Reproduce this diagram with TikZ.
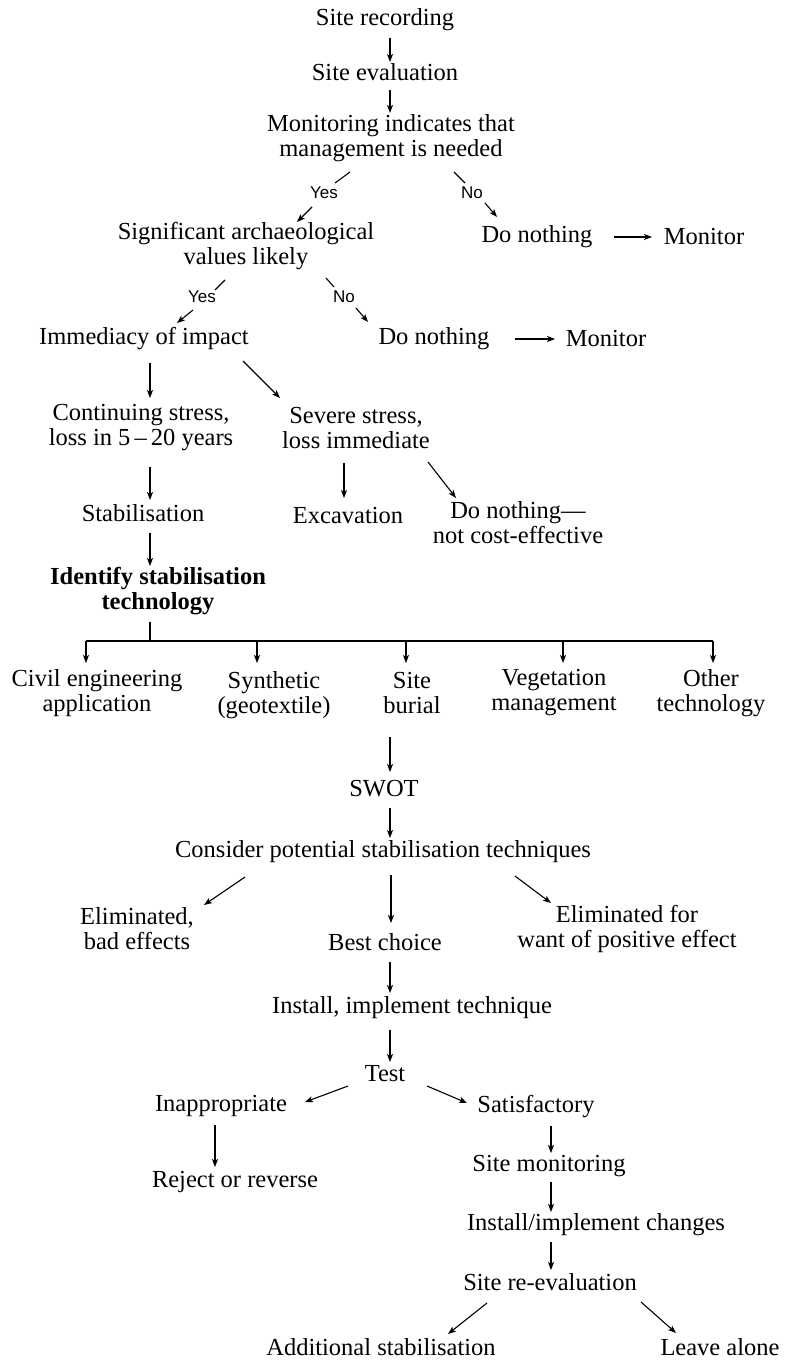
\documentclass[tikz,border=0pt]{standalone}
\usepackage{fontspec}
\setmainfont{Liberation Serif}
\newfontfamily\lblfont{Liberation Sans}
\usetikzlibrary{arrows.meta}
\begin{document}
\begin{tikzpicture}[x=1pt,y=-1pt,
  box/.style={inner sep=0pt,align=center,font=\fontsize{24.5}{25}\selectfont},
  bbox/.style={box,font=\fontsize{24.5}{25}\selectfont\bfseries},
  lbl/.style={inner sep=0pt,font=\lblfont\fontsize{17}{18}\selectfont},
  ln/.style={line width=1.1pt},
  arr/.style={ln,-{Stealth[length=8pt,width=6pt,inset=2pt]}}]
\useasboundingbox (0,0) rectangle (785,1362);
% nodes
\node[box] (rec) at (385,20) {Site recording};
\node[box] (eval) at (385,72) {Site evaluation};
\node[box] (mon) at (391,138) {Monitoring indicates that\\management is needed};
\node[lbl] (yes1) at (324,193) {Yes};
\node[lbl] (no1) at (472,193) {No};
\node[box] (sig) at (246,246) {Significant archaeological\\values likely};
\node[box] (dn1) at (537,237) {Do nothing};
\node[box] (mo1) at (704,237) {Monitor};
\node[lbl] (yes2) at (202,297) {Yes};
\node[lbl] (no2) at (344,297) {No};
\node[box] (imm) at (144,339) {Immediacy of impact};
\node[box] (dn2) at (434,339) {Do nothing};
\node[box] (mo2) at (606,339) {Monitor};
\node[box] (cont) at (141,428) {Continuing stress,\\loss in 5\thinspace–\thinspace20 years};
\node[box] (sev) at (356,428) {Severe stress,\\loss immediate};
\node[box] (stab) at (143,513) {Stabilisation};
\node[box] (exc) at (348,516) {Excavation};
\node[box] (dnc) at (518,523) {Do nothing—\\not cost-effective};
\node[bbox] (ident) at (158,591) {Identify stabilisation\\technology};
\node[box] (civ) at (97,693) {Civil engineering\\application};
\node[box] (syn) at (274,695) {Synthetic\\(geotextile)};
\node[box] (bur) at (412,693) {Site\\burial};
\node[box] (veg) at (554,693) {Vegetation\\management};
\node[box] (oth) at (711,693) {Other\\technology};
\node[box] (swot) at (384,789) {SWOT};
\node[box] (cons) at (383,852) {Consider potential stabilisation techniques};
\node[box] (elb) at (137,929) {Eliminated,\\bad effects};
\node[box] (best) at (385,942) {Best choice};
\node[box] (elw) at (627,929) {Eliminated for\\want of positive effect};
\node[box] (inst) at (412,1008) {Install, implement technique};
\node[box] (test) at (385,1074) {Test};
\node[box] (inap) at (221,1106) {Inappropriate};
\node[box] (sat) at (536,1107) {Satisfactory};
\node[box] (rej) at (235,1182) {Reject or reverse};
\node[box] (smon) at (549,1166) {Site monitoring};
\node[box] (ichg) at (596,1225) {Install/implement changes};
\node[box] (reev) at (550,1282) {Site re-evaluation};
\node[box] (add) at (381,1347) {Additional stabilisation};
\node[box] (leave) at (720,1347) {Leave alone};
% connectors
\draw[arr] ([shift={(5,18)}]rec.center) -- ([shift={(5,-10)}]eval.center);
\draw[arr] ([shift={(5,18)}]eval.center) -- ([shift={(-1,-25)}]mon.center);
\draw[ln] ([shift={(-41,34)}]mon.center) -- ([shift={(11,-10)}]yes1.center);
\draw[arr] ([shift={(-12,14)}]yes1.center) -- ([shift={(51,-24)}]sig.center);
\draw[ln] ([shift={(63,34)}]mon.center) -- ([shift={(-7,-10)}]no1.center);
\draw[arr] ([shift={(13,10)}]no1.center) -- ([shift={(-40,-20)}]dn1.center);
\draw[arr] ([shift={(77,0)}]dn1.center) -- ([shift={(-52,0)}]mo1.center);
\draw[ln] ([shift={(-21,34)}]sig.center) -- ([shift={(13,-7)}]yes2.center);
\draw[arr] ([shift={(-9,13)}]yes2.center) -- ([shift={(33,-16)}]imm.center);
\draw[ln] ([shift={(80,32)}]sig.center) -- ([shift={(-10,-10)}]no2.center);
\draw[arr] ([shift={(12,11)}]no2.center) -- ([shift={(-66,-17)}]dn2.center);
\draw[arr] ([shift={(81,0)}]dn2.center) -- ([shift={(-51,0)}]mo2.center);
\draw[arr] ([shift={(6,24)}]imm.center) -- ([shift={(9,-30)}]cont.center);
\draw[arr] ([shift={(99,22)}]imm.center) -- ([shift={(-76,-30)}]sev.center);
\draw[arr] ([shift={(9,39)}]cont.center) -- ([shift={(7,-13)}]stab.center);
\draw[arr] ([shift={(-12,35)}]sev.center) -- ([shift={(-4,-18)}]exc.center);
\draw[arr] ([shift={(72,34)}]sev.center) -- ([shift={(-62,-25)}]dnc.center);
\draw[arr] ([shift={(7,20)}]stab.center) -- ([shift={(-8,-25)}]ident.center);
\coordinate (bus) at ([shift={(-8,50)}]ident.center);
\draw[ln] ([shift={(-8,31)}]ident.center) -- (bus);
\draw[ln] ([shift={(-11,-52)}]civ.center) -- ([shift={(2,-52)}]oth.center);
\draw[arr] ([shift={(-11,-52)}]civ.center) -- ([shift={(-11,-30)}]civ.center);
\draw[arr] ([shift={(-17,-54)}]syn.center) -- ([shift={(-17,-32)}]syn.center);
\draw[arr] ([shift={(-6,-52)}]bur.center) -- ([shift={(-6,-30)}]bur.center);
\draw[arr] ([shift={(9,-52)}]veg.center) -- ([shift={(9,-30)}]veg.center);
\draw[arr] ([shift={(2,-52)}]oth.center) -- ([shift={(2,-30)}]oth.center);
\draw[arr] ([shift={(-22,44)}]bur.center) -- ([shift={(6,-17)}]swot.center);
\draw[arr] ([shift={(6,19)}]swot.center) -- ([shift={(7,-14)}]cons.center);
\draw[arr] ([shift={(-138,25)}]cons.center) -- ([shift={(67,-24)}]elb.center);
\draw[arr] ([shift={(8,23)}]cons.center) -- ([shift={(6,-19)}]best.center);
\draw[arr] ([shift={(132,24)}]cons.center) -- ([shift={(-76,-26)}]elw.center);
\draw[arr] ([shift={(5,20)}]best.center) -- ([shift={(-22,-15)}]inst.center);
\draw[arr] ([shift={(-22,22)}]inst.center) -- ([shift={(5,-12)}]test.center);
\draw[arr] ([shift={(-37,12)}]test.center) -- ([shift={(84,-4)}]inap.center);
\draw[arr] ([shift={(42,12)}]test.center) -- ([shift={(-69,-4)}]sat.center);
\draw[arr] ([shift={(-6,19)}]inap.center) -- ([shift={(-20,-15)}]rej.center);
\draw[arr] ([shift={(15,19)}]sat.center) -- ([shift={(2,-13)}]smon.center);
\draw[arr] ([shift={(2,16)}]smon.center) -- ([shift={(-45,-13)}]ichg.center);
\draw[arr] ([shift={(-45,17)}]ichg.center) -- ([shift={(1,-12)}]reev.center);
\draw[arr] ([shift={(-63,21)}]reev.center) -- ([shift={(67,-13)}]add.center);
\draw[arr] ([shift={(91,20)}]reev.center) -- ([shift={(-44,-14)}]leave.center);
\end{tikzpicture}
\end{document}
